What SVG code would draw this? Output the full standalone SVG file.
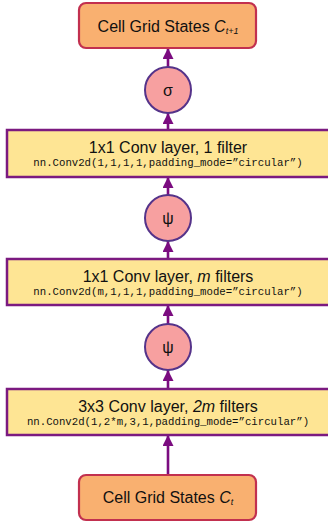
<svg xmlns="http://www.w3.org/2000/svg" width="328" height="522" viewBox="0 0 328 522">
<defs>
<style>
.state{fill:#F9B070;stroke:#C2304F;stroke-width:2.2}
.layer{fill:#FEE594;stroke:#7B1A80;stroke-width:2.5}
.act{fill:#F7A0A0;stroke:#55338A;stroke-width:2}
.t{font-family:"Liberation Sans",Arial,sans-serif;font-size:16px;fill:#111;text-anchor:middle}
.m{font-family:"Liberation Mono","DejaVu Sans Mono",monospace;font-size:10.7px;fill:#111;text-anchor:middle}
.c{fill:none;stroke:#7B0C80;stroke-width:2.6}
</style>
<marker id="ah" markerUnits="userSpaceOnUse" markerWidth="11" markerHeight="11" refX="11" refY="5.5" orient="auto">
<path d="M0,0 L11,5.5 L0,11 z" fill="#7B0C80"/>
</marker>
</defs>
<g id="connectors">
<line class="c" x1="168" y1="475" x2="168" y2="435" marker-end="url(#ah)"/>
<line class="c" x1="168" y1="389" x2="168" y2="370" marker-end="url(#ah)"/>
<line class="c" x1="168" y1="324" x2="168" y2="305" marker-end="url(#ah)"/>
<line class="c" x1="168" y1="259" x2="168" y2="241" marker-end="url(#ah)"/>
<line class="c" x1="168" y1="195" x2="168" y2="177" marker-end="url(#ah)"/>
<line class="c" x1="168" y1="130" x2="168" y2="113" marker-end="url(#ah)"/>
<line class="c" x1="168" y1="67" x2="168" y2="48" marker-end="url(#ah)"/>
</g>
<g id="out">
<rect class="state" x="79" y="3" width="177" height="45" rx="7"/>
<text class="t" x="168" y="31.5">Cell Grid States <tspan font-style="italic">C</tspan><tspan font-style="italic" font-size="9" dy="2.5">t+1</tspan></text>
</g>
<g id="sigma">
<circle class="act" cx="168" cy="90" r="23"/>
<text class="t" x="168" y="95.5" font-size="15">σ</text>
</g>
<g id="conv1">
<rect class="layer" x="7" y="130" width="325" height="47"/>
<text class="t" x="168" y="153">1x1 Conv layer, 1 filter</text>
<text class="m" x="168" y="166">nn.Conv2d(1,1,1,1,padding_mode=”circular”)</text>
</g>
<g id="psi1">
<circle class="act" cx="168" cy="218" r="23"/>
<text class="t" x="168" y="223.5" font-size="15">ψ</text>
</g>
<g id="conv2">
<rect class="layer" x="7" y="259" width="325" height="46"/>
<text class="t" x="168" y="282">1x1 Conv layer, <tspan font-style="italic">m</tspan> filters</text>
<text class="m" x="168" y="295">nn.Conv2d(m,1,1,1,padding_mode=”circular”)</text>
</g>
<g id="psi2">
<circle class="act" cx="168" cy="347" r="23"/>
<text class="t" x="168" y="352.5" font-size="15">ψ</text>
</g>
<g id="conv3">
<rect class="layer" x="7" y="389" width="325" height="46"/>
<text class="t" x="168" y="412">3x3 Conv layer, <tspan font-style="italic">2m</tspan> filters</text>
<text class="m" x="168" y="425">nn.Conv2d(1,2*m,3,1,padding_mode=”circular”)</text>
</g>
<g id="in">
<rect class="state" x="79" y="475" width="177" height="45" rx="7"/>
<text class="t" x="168" y="502.5">Cell Grid States <tspan font-style="italic">C</tspan><tspan font-style="italic" font-size="9" dy="2.5">t</tspan></text>
</g>
</svg>
